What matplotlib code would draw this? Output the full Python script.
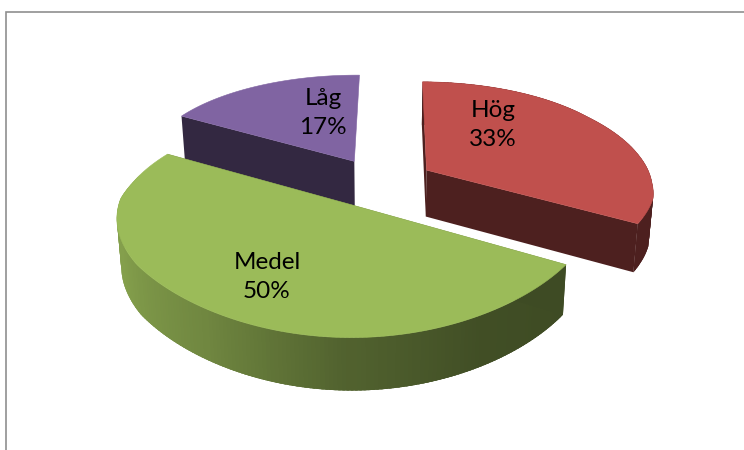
import numpy as np
import matplotlib
matplotlib.use("Agg")
import matplotlib.pyplot as plt
from matplotlib.patches import Polygon

# Data
categories = ["Hög", "Medel", "Låg"]
values = [33, 50, 17]

# Style and layout
top_colors = ["#c0504d", "#9bbb59", "#8064a2"]
label_xy = [(493, 125), (267, 277), (323, 113)]
draw_order = [2, 0, 1]
START = 0.6
X0, Y0 = 380.5, 182.5
RX, RY = 226.0, 105.0
PERSP = 0.15
EXPLODE = 0.24
BOTTOM_SX, BOTTOM_SY, DEPTH = 0.983, 1.039, 46.9
PERSP_X_DEPTH = [-1.2, -0.7, -0.37, -0.15, 0.0, 0.28, 0.69, 1.15]
PERSP_X_SCALE = [1.10, 1.09, 1.055, 1.03, 1.0, 0.953, 0.889, 0.85]
SHADE_ANGLE = [120, 150, 180, 215, 250, 290]
SHADE_LEVEL = [0.40, 0.42, 0.52, 0.72, 0.85, 0.85]

fig = plt.figure(figsize=(7.44, 4.5), dpi=100)
ax = fig.add_axes([0, 0, 1, 1])
ax.set_xlim(0, 744)
ax.set_ylim(450, 0)
ax.axis("off")

ax.plot([6, 6, 744], [450, 11.5, 11.5], color="#8f8f8f", lw=1.2, solid_joinstyle="miter")


def project(wx, wy):
    sy = 1.0 / (1.0 + PERSP * wy)
    sx = np.interp(wy, PERSP_X_DEPTH, PERSP_X_SCALE)
    return X0 + RX * wx * sx, Y0 - RY * wy * sy


def lower(x, y):
    return X0 + BOTTOM_SX * (x - X0), Y0 + DEPTH + BOTTOM_SY * (y - Y0)


def shaded(color, level):
    rgb = np.array(matplotlib.colors.to_rgb(color))
    return tuple(rgb * level)


def point(theta, ox, oy):
    t = np.radians(theta)
    return project(ox + np.sin(t), oy + np.cos(t))


def quad(points_top, color, z):
    points_low = [lower(*p) for p in reversed(points_top)]
    ax.add_patch(Polygon(list(points_top) + points_low, closed=True, facecolor=color,
                         edgecolor="none", lw=0, zorder=z))


total = sum(values)
spans = []
angle = START
for v in values:
    spans.append((angle, angle + 360.0 * v / total))
    angle += 360.0 * v / total

for order, i in enumerate(draw_order):
    a1, a2 = spans[i]
    mid = np.radians((a1 + a2) / 2)
    ox, oy = EXPLODE * np.sin(mid), EXPLODE * np.cos(mid)
    color = top_colors[i]
    z = 2 + order * 3
    apex = project(ox, oy)
    dark = shaded(color, SHADE_LEVEL[0])

    # Outer rim, only the part facing the viewer or the sides
    thetas = np.arange(a1, a2 + 0.5, 1.0)
    thetas[-1] = a2
    pairs = [p for p in zip(thetas[:-1], thetas[1:]) if (p[0] + p[1]) / 2 < 285]
    pairs.sort(key=lambda p: -np.cos(np.radians((p[0] + p[1]) / 2)))
    for t1, t2 in pairs:
        level = float(np.interp((t1 + t2) / 2, SHADE_ANGLE, SHADE_LEVEL))
        lo, hi = max(a1, t1 - 0.8), min(a2, t2 + 0.8)
        quad([point(t, ox, oy) for t in (lo, (lo + hi) / 2, hi)], shaded(color, level), z)

    # Radial side faces; the one closing the circle at the top looks away
    for t in (a1, a2):
        if t < 355:
            quad([apex, point(t, ox, oy)], dark, z + 1)

    # Top face
    arc = [point(t, ox, oy) for t in thetas]
    ax.add_patch(Polygon([apex] + arc, closed=True, facecolor=color,
                         edgecolor=color, lw=0.4, zorder=z + 2))

for name, v, (x, y) in zip(categories, values, label_xy):
    ax.text(x, y, f"{name}\n{v}%", ha="center", va="center", fontsize=17.5,
            family="Lato", color="black", linespacing=1.5, zorder=50)

fig.savefig("out.png", dpi=100, facecolor="white")
